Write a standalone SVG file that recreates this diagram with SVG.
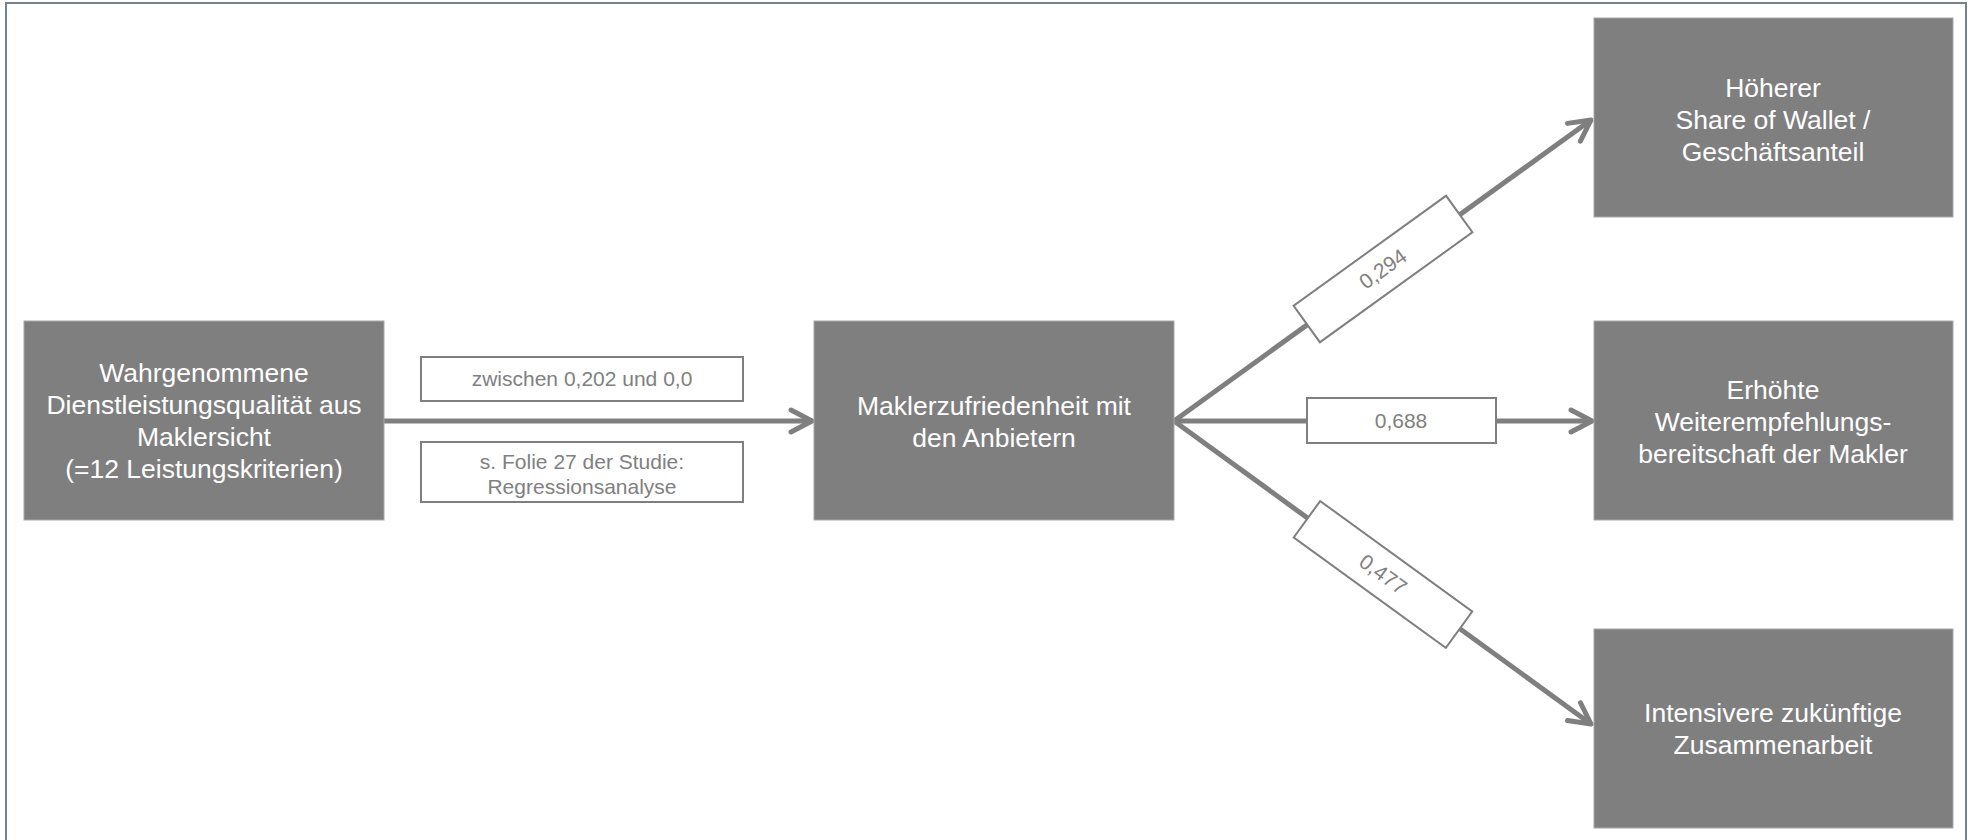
<svg xmlns="http://www.w3.org/2000/svg" width="1968" height="840" viewBox="0 0 1968 840">
<style>
.node{fill:#7f7f7f;stroke:#a8a8a8;stroke-width:1}
.nt{font-family:"Liberation Sans",Arial,sans-serif;font-size:26.5px;fill:#ffffff;text-anchor:middle}
.lb{fill:#ffffff;stroke:#7f7f7f;stroke-width:2}
.lt{font-family:"Liberation Sans",Arial,sans-serif;font-size:21px;fill:#808080;text-anchor:middle}
.con{stroke:#7f7f7f;stroke-width:5;fill:none}
</style>
<defs>
<marker id="arr" markerUnits="userSpaceOnUse" markerWidth="40" markerHeight="40" viewBox="-30 -20 40 40" refX="0" refY="0" orient="auto" overflow="visible">
<path d="M-21,-11 L0,0 L-21,11" fill="none" stroke="#7f7f7f" stroke-width="5" stroke-linecap="round" stroke-linejoin="round"/>
</marker>
</defs>
<rect x="0" y="0" width="1968" height="840" fill="#ffffff"/>
<rect x="6" y="3" width="1960" height="860" fill="none" stroke="#77828c" stroke-width="2"/>

<g id="connectors">
<line class="con" x1="384" y1="421" x2="812" y2="421" marker-end="url(#arr)"/>
<line class="con" x1="1174" y1="421" x2="1592" y2="421" marker-end="url(#arr)"/>
<line class="con" x1="1174" y1="421" x2="1591" y2="120" marker-end="url(#arr)"/>
<line class="con" x1="1174" y1="421" x2="1591" y2="724" marker-end="url(#arr)"/>
</g>

<g id="label-zwischen">
<rect class="lb" x="421" y="357" width="322" height="44"/>
<text class="lt" x="582" y="386">zwischen 0,202 und 0,0</text>
</g>
<g id="label-folie">
<rect class="lb" x="421" y="442" width="322" height="60"/>
<text class="lt" x="582" y="469">s. Folie 27 der Studie:</text>
<text class="lt" x="582" y="494">Regressionsanalyse</text>
</g>
<g id="label-0688">
<rect class="lb" x="1307" y="398" width="189" height="45"/>
<text class="lt" x="1401" y="428">0,688</text>
</g>
<g id="label-0294" transform="translate(1383,269) rotate(-35.8)">
<rect class="lb" x="-94" y="-22.5" width="188" height="45"/>
<text class="lt" x="0" y="7">0,294</text>
</g>
<g id="label-0477" transform="translate(1383,574.5) rotate(36)">
<rect class="lb" x="-94" y="-22.5" width="188" height="45"/>
<text class="lt" x="0" y="7">0,477</text>
</g>

<g id="node-quality">
<rect class="node" x="24" y="321" width="360" height="199"/>
<text class="nt" x="204" y="382">Wahrgenommene</text>
<text class="nt" x="204" y="414">Dienstleistungsqualität aus</text>
<text class="nt" x="204" y="446">Maklersicht</text>
<text class="nt" x="204" y="478">(=12 Leistungskriterien)</text>
</g>
<g id="node-satisfaction">
<rect class="node" x="814" y="321" width="360" height="199"/>
<text class="nt" x="994" y="415">Maklerzufriedenheit mit</text>
<text class="nt" x="994" y="447">den Anbietern</text>
</g>
<g id="node-share">
<rect class="node" x="1594" y="18" width="359" height="199"/>
<text class="nt" x="1773" y="97">Höherer</text>
<text class="nt" x="1773" y="129">Share of Wallet /</text>
<text class="nt" x="1773" y="161">Geschäftsanteil</text>
</g>
<g id="node-referral">
<rect class="node" x="1594" y="321" width="359" height="199"/>
<text class="nt" x="1773" y="399">Erhöhte</text>
<text class="nt" x="1773" y="431">Weiterempfehlungs-</text>
<text class="nt" x="1773" y="463">bereitschaft der Makler</text>
</g>
<g id="node-cooperation">
<rect class="node" x="1594" y="629" width="359" height="199"/>
<text class="nt" x="1773" y="722">Intensivere zukünftige</text>
<text class="nt" x="1773" y="754">Zusammenarbeit</text>
</g>
</svg>
